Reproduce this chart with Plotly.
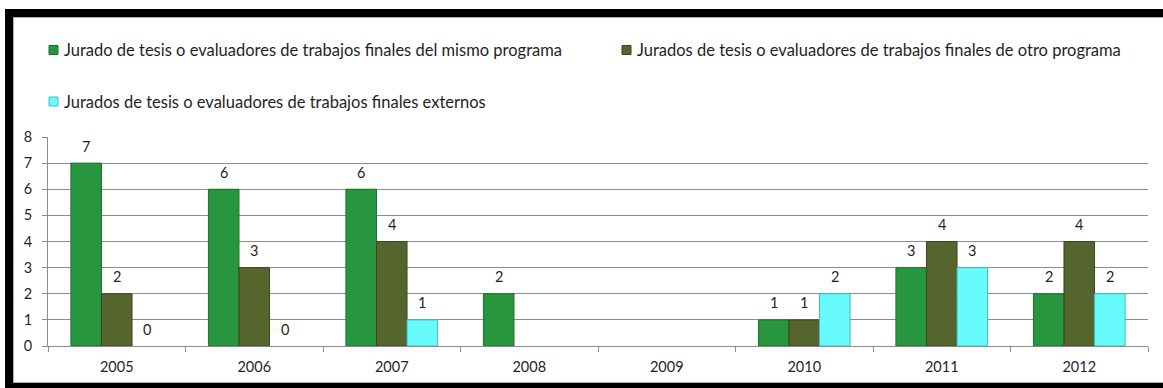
import plotly.graph_objects as go

# Categories and series values
years = ["2005", "2006", "2007", "2008", "2009", "2010", "2011", "2012"]
mismo_programa = [7, 6, 6, 2, None, 1, 3, 2]
otro_programa = [2, 3, 4, None, None, 1, 4, 4]
externos = [0, 0, 1, None, None, 2, 3, 2]

series_names = [
    "Jurado de tesis o evaluadores de trabajos finales del mismo programa",
    "Jurados de tesis o evaluadores de trabajos finales de otro programa",
    "Jurados de tesis o evaluadores de trabajos finales externos",
]
series_values = [mismo_programa, otro_programa, externos]
fill_colors = ["#27963f", "#56652d", "#68fbfb"]
edge_colors = ["#1c6f2e", "#3b4620", "#3fbcbc"]

FONT = "Lato"
TEXT_COLOR = "#1f1f1f"
TICK_SIZE = 14.5
LEGEND_SIZE = 16.5

# Figure geometry (pixels)
W, H = 1163, 388
ML, MR, MT, MB = 48, 15, 137, 42
PW, PH = W - ML - MR, H - MT - MB
BARGAP = 1 / 3


def px_x(px):
    return (px - ML) / PW


def px_y(py):
    return (H - MB - py) / PH


fig = go.Figure()
for name, vals, fc, ec in zip(series_names, series_values, fill_colors, edge_colors):
    # no outline on zero-height bars
    widths = [1 if (v is not None and v > 0) else 0 for v in vals]
    fig.add_trace(go.Bar(
        x=years, y=vals, name=name,
        marker=dict(color=fc, line=dict(color=ec, width=widths)),
        showlegend=False,
    ))

# Value labels above each bar (category positions by index)
bar_px = PW / len(years) * (1 - BARGAP) / len(series_values)
annotations = []
for i, vals in enumerate(series_values):
    for j, v in enumerate(vals):
        if v is None:
            continue
        annotations.append(dict(
            x=j, y=v, xref="x", yref="y", text=str(v), showarrow=False,
            xshift=(i - 1) * bar_px, yshift=17, yanchor="middle",
            font=dict(family=FONT, size=TICK_SIZE, color=TEXT_COLOR),
        ))

# Legend drawn as swatches and text
legend_pos = [(49, 50), (622, 50), (49, 101.5)]
shapes = []
for (lx, ly), name, fc, ec in zip(legend_pos, series_names, fill_colors, edge_colors):
    shapes.append(dict(
        type="rect", xref="paper", yref="paper",
        x0=px_x(lx), x1=px_x(lx + 9), y0=px_y(ly + 4.5), y1=px_y(ly - 4.5),
        fillcolor=fc, line=dict(color=ec, width=1),
    ))
    annotations.append(dict(
        x=px_x(lx + 13), y=px_y(ly), xref="paper", yref="paper",
        text=name, showarrow=False, xanchor="left", yanchor="middle",
        font=dict(family=FONT, size=LEGEND_SIZE, color=TEXT_COLOR),
    ))

# Chart frame
frame = [
    (5, 9, 1200, 17),      # top band
    (5, 9, 13, 400),       # left band
    (5, 383, 1200, 400),   # bottom band
]
for x0, y0, x1, y1 in frame:
    shapes.append(dict(
        type="rect", xref="paper", yref="paper",
        x0=px_x(x0), x1=px_x(x1), y0=px_y(y1), y1=px_y(y0),
        fillcolor="black", line=dict(width=0), layer="above",
    ))
shapes.append(dict(
    type="rect", xref="paper", yref="paper",
    x0=px_x(13.5), x1=px_x(1200), y0=px_y(382.5), y1=px_y(17.5),
    fillcolor="rgba(0,0,0,0)", line=dict(color="#b0b0b0", width=1), layer="above",
))

fig.update_layout(
    width=W, height=H, autosize=False,
    margin=dict(l=ML, r=MR, t=MT, b=MB, pad=0),
    paper_bgcolor="white", plot_bgcolor="white",
    barmode="group", bargap=BARGAP, bargroupgap=0,
    font=dict(family=FONT, size=TICK_SIZE, color=TEXT_COLOR),
    shapes=shapes, annotations=annotations,
    showlegend=False,
)
fig.update_xaxes(
    type="category", range=[-0.5, 7.5],
    showline=True, linecolor="#8c8c8c", linewidth=1,
    ticks="outside", tickson="boundaries", ticklen=5, tickcolor="#8c8c8c",
    ticklabelstandoff=8, showgrid=False,
    tickfont=dict(family=FONT, size=TICK_SIZE, color=TEXT_COLOR),
)
fig.update_yaxes(
    range=[0, 8], dtick=1, tick0=0,
    showline=True, linecolor="#8c8c8c", linewidth=1,
    ticks="outside", ticklen=5, tickcolor="#8c8c8c",
    showgrid=True, gridcolor="#8c8c8c", gridwidth=1,
    zeroline=False, ticklabelstandoff=7,
    tickfont=dict(family=FONT, size=TICK_SIZE, color=TEXT_COLOR),
)

fig.write_html("out.html")
